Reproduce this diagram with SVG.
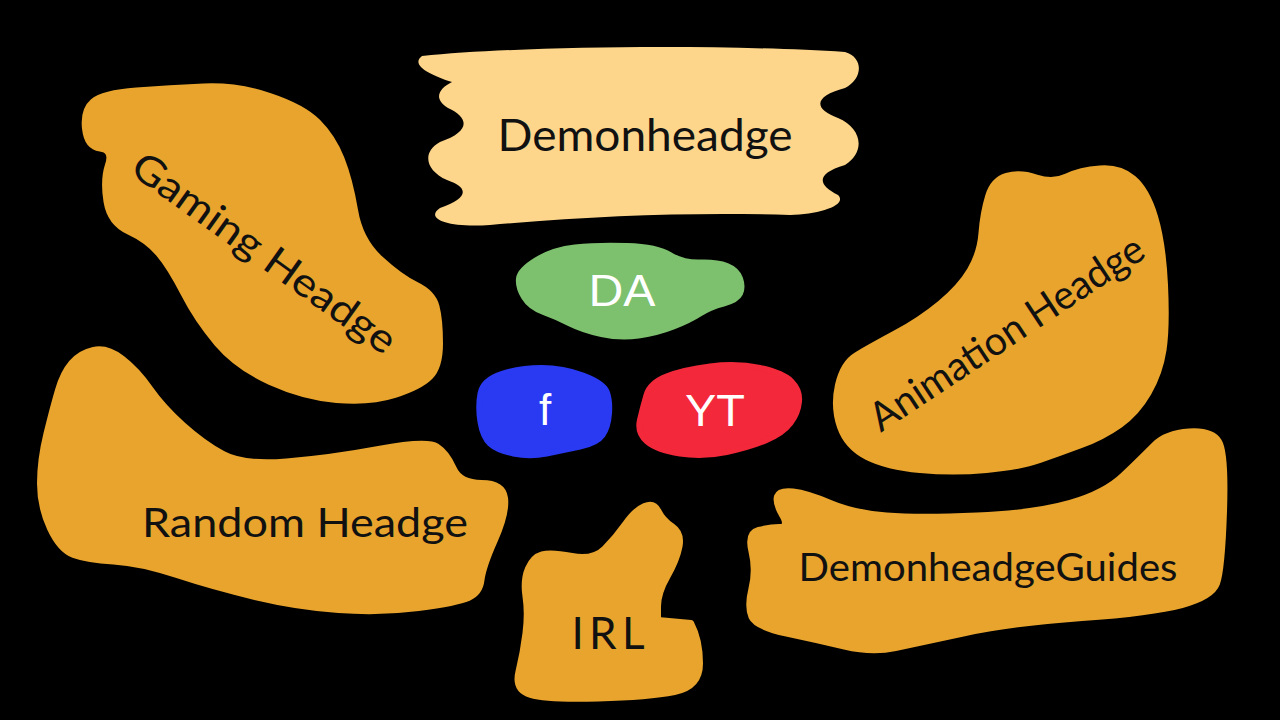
<svg xmlns="http://www.w3.org/2000/svg" width="1280" height="720" viewBox="0 0 1280 720">
<style>
.o{fill:#E8A42D;stroke:#E8A42D;stroke-width:6;stroke-linejoin:round}
.t{font-family:Lato,"DejaVu Sans",sans-serif;font-weight:400;fill:#111;text-anchor:middle;dominant-baseline:central}
.w{font-family:"Liberation Sans",Arial,sans-serif;fill:#fff;text-anchor:middle;dominant-baseline:central}
</style>
<rect width="1280" height="720" fill="#000"/>
<g id="demonheadge">
<path fill="#FDD68B" d="M 422,56 C 520,46 720,44 845,52 C 865,58 862,80 845,88 C 815,96 812,108 838,118 C 862,128 866,152 845,165 C 815,174 818,185 838,195 C 848,205 820,214 790,215 C 700,212 600,215 490,225 C 445,228 425,218 440,208 C 468,198 470,188 447,180 C 425,170 422,152 440,142 C 470,132 470,118 448,108 C 432,98 440,88 452,82 C 430,75 410,65 422,56 Z"/>
<text class="t" x="645" y="134" font-size="44" textLength="295" lengthAdjust="spacingAndGlyphs">Demonheadge</text>
</g>
<g id="gaming">
<path class="o" d="M 85,128.5 Q 83,110 93,101.5 Q 103,93 136.5,90.5 Q 170,88 203.5,86.5 Q 237,85 270,96 Q 303,107 318,122 Q 333,137 341.5,158.5 Q 350,180 355,210 Q 360,240 380,258.5 Q 400,277 416.5,285 Q 433,293 436.5,306.5 Q 440,320 440,343.5 Q 440,367 430,377 Q 420,387 395,395 Q 370,403 336.5,400 Q 303,397 270,382 Q 237,367 217,343.5 Q 197,320 183.5,293.5 Q 170,267 158.5,253.5 Q 147,240 128.5,231.5 Q 110,223 106.5,201.5 Q 103,180 108,165 Q 113,150 100,148.5 Q 87,147 85,128.5 Z"/>
<text class="t" font-size="40" transform="translate(265,252) rotate(35.6)" textLength="315" lengthAdjust="spacingAndGlyphs">Gaming Headge</text>
</g>
<g id="animation">
<path class="o" d="M 988,196.5 Q 993,180 1006.5,176 Q 1020,172 1036.5,177.5 Q 1053,183 1066.5,176.5 Q 1080,170 1100,168.5 Q 1120,167 1133.5,178.5 Q 1147,190 1155,216.5 Q 1163,243 1165,285 Q 1167,327 1163.5,350 Q 1160,373 1148.5,393 Q 1137,413 1120,425 Q 1103,437 1081.5,445 Q 1060,453 1040,460 Q 1020,467 986.5,470 Q 953,473 920,470 Q 887,467 867,457 Q 847,447 840,427 Q 833,407 838,385 Q 843,363 856.5,355 Q 870,347 895,333.5 Q 920,320 940,303.5 Q 960,287 970,270 Q 980,253 981.5,233 Q 983,213 988,196.5 Z"/>
<text class="t" font-size="40" transform="translate(1006,332) rotate(-33.5)" textLength="320" lengthAdjust="spacingAndGlyphs">Animation Headge</text>
</g>
<g id="random">
<path class="o" d="M 71.5,363 Q 80,353 93.5,350 Q 107,347 122,358.5 Q 137,370 150,388.5 Q 163,407 183,425 Q 203,443 223,454 Q 243,465 286.5,461.5 Q 330,458 378.5,449 Q 427,440 437,446.5 Q 447,453 453.5,468 Q 460,483 481.5,483 Q 503,483 505,498 Q 507,513 495,540 Q 483,567 481.5,580 Q 480,593 468.5,598 Q 457,603 418.5,608 Q 380,613 338.5,610 Q 297,607 255,597 Q 213,587 176.5,575 Q 140,563 113.5,561.5 Q 87,560 73.5,555 Q 60,550 50,528.5 Q 40,507 40,483.5 Q 40,460 46.5,433.5 Q 53,407 58,390 Q 63,373 71.5,363 Z"/>
<text class="t" x="305" y="522" font-size="40" textLength="326" lengthAdjust="spacingAndGlyphs">Random Headge</text>
</g>
<g id="irl">
<path class="o" d="M 644.5,506 Q 654,502 658.5,511 Q 663,520 672.5,526.5 Q 682,533 679.5,546.5 Q 677,560 667.5,576.5 Q 658,593 658,606.5 L 658,620 L 691,623 Q 700,640 700,663.5 Q 700,687 674.5,692 Q 649,697 598,698.5 Q 547,700 530.5,695 Q 514,690 518.5,671.5 Q 523,653 525.5,633 Q 528,613 525.5,596.5 Q 523,580 528,568.5 Q 533,557 542,554.5 Q 551,552 572,556 Q 593,560 604.5,548.5 Q 616,537 625.5,523.5 Q 635,510 644.5,506 Z"/>
<text class="t" x="608" y="632" font-size="44" textLength="73" lengthAdjust="spacing">IRL</text>
</g>
<g id="guides">
<path class="o" d="M 777,496.5 Q 779,490 793,491.5 Q 807,493 830.5,503 Q 854,513 886.5,515.5 Q 919,518 977,515.5 Q 1035,513 1070,503 Q 1105,493 1123.5,475 Q 1142,457 1154,445 Q 1166,433 1189,431.5 Q 1212,430 1219,441.5 Q 1226,453 1224,511.5 Q 1222,570 1217,583.5 Q 1212,597 1182,605 Q 1152,613 1082,618 Q 1012,623 965.5,633 Q 919,643 895.5,648 Q 872,653 844.5,646.5 Q 817,640 786.5,633.5 Q 756,627 751.5,617 Q 747,607 751.5,588.5 Q 756,570 751.5,551.5 Q 747,533 758.5,530 Q 770,527 779.5,527 Q 789,527 782,515 Q 775,503 777,496.5 Z"/>
<text class="t" x="988" y="566" font-size="38" textLength="379" lengthAdjust="spacingAndGlyphs">DemonheadgeGuides</text>
</g>
<g id="da">
<path fill="#7DC06E" stroke="#7DC06E" stroke-width="6" stroke-linejoin="round" d="M 519,278.5 Q 520,270 536.5,260 Q 553,250 575,247.5 Q 597,245 627,246 Q 657,247 670,255 Q 683,263 700,262.5 Q 717,262 727,266 Q 737,270 740,278.5 Q 743,287 740,293.5 Q 737,300 723.5,303.5 Q 710,307 700,313.5 Q 690,320 673.5,326.5 Q 657,333 638.5,335.5 Q 620,338 601.5,334 Q 583,330 570,323.5 Q 557,317 543.5,312 Q 530,307 524,297 Q 518,287 519,278.5 Z"/>
<text class="w" x="622" y="290" font-size="44" textLength="67" lengthAdjust="spacingAndGlyphs">DA</text>
</g>
<g id="fb">
<path fill="#2A3AF2" stroke="#2A3AF2" stroke-width="6" stroke-linejoin="round" d="M 480.5,393.5 Q 483,380 501.5,374 Q 520,368 541.5,368 Q 563,368 583,375.5 Q 603,383 606.5,391.5 Q 610,400 609,413.5 Q 608,427 602.5,435 Q 597,443 580,446.5 Q 563,450 546.5,453.5 Q 530,457 513.5,453.5 Q 497,450 490,443.5 Q 483,437 480.5,422 Q 478,407 480.5,393.5 Z"/>
<text class="w" x="545" y="409" font-size="44">f</text>
</g>
<g id="yt">
<path fill="#F3283A" stroke="#F3283A" stroke-width="6" stroke-linejoin="round" d="M 646.5,395 Q 650,383 666.5,376.5 Q 683,370 710,366.5 Q 737,363 760,368 Q 783,373 791.5,381.5 Q 800,390 799,401.5 Q 798,413 790.5,423 Q 783,433 766.5,440 Q 750,447 726.5,452 Q 703,457 680,453.5 Q 657,450 647,441.5 Q 637,433 640,420 Q 643,407 646.5,395 Z"/>
<text class="w" x="715" y="410" font-size="44" textLength="60" lengthAdjust="spacingAndGlyphs">YT</text>
</g>
<g id="connectors"/>
</svg>
